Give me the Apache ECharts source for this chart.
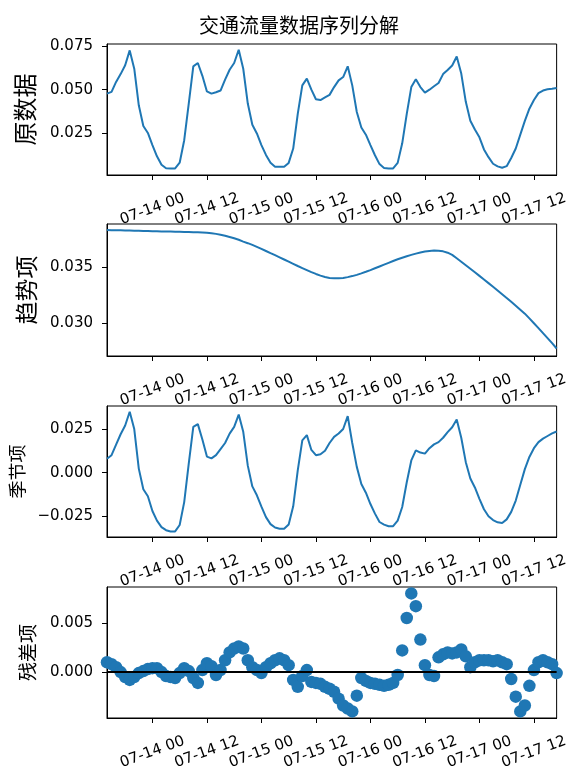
<!DOCTYPE html>
<html>
<head>
<meta charset="utf-8">
<script src="https://cdn.jsdelivr.net/npm/echarts@6/dist/echarts.min.js"></script>
<style>html,body{margin:0;padding:0;background:#fff;}#c{width:571px;height:773px;}</style>
</head>
<body>
<div id="c"></div>
<script>
// Hourly timestamps: 07-13 14:00 .. 07-17 17:00 (100 points)
const startDay = 13, startHour = 14, nPoints = 100;
const timeLabels = [];
for (let i = 0; i < nPoints; i++) {
  const h = startHour + i;
  const d = startDay + Math.floor(h / 24);
  const hh = h % 24;
  timeLabels.push('07-' + d + ' ' + (hh < 10 ? '0' + hh : '' + hh));
}

const observed = [
0.0477,0.0487,0.0545,0.0590,0.0641,0.0727,0.0621,0.0410,0.0290,0.0250,
0.0180,0.0115,0.0066,0.0046,0.0045,0.0045,0.0078,0.0208,0.0420,0.0635,
0.0654,0.0580,0.0490,0.0477,0.0485,0.0495,0.0558,0.0615,0.0654,0.0731,
0.0621,0.0420,0.0297,0.0247,0.0180,0.0123,0.0078,0.0055,0.0054,0.0054,
0.0077,0.0160,0.0360,0.0525,0.0564,0.0500,0.0445,0.0440,0.0455,0.0470,
0.0515,0.0554,0.0573,0.0635,0.0525,0.0371,0.0281,0.0240,0.0180,0.0121,
0.0070,0.0048,0.0045,0.0045,0.0077,0.0190,0.0360,0.0515,0.0560,0.0515,
0.0483,0.0500,0.0520,0.0539,0.0590,0.0614,0.0640,0.0692,0.0593,0.0430,
0.0320,0.0270,0.0225,0.0155,0.0110,0.0072,0.0057,0.0049,0.0058,0.0105,
0.0160,0.0240,0.0320,0.0390,0.0440,0.0480,0.0495,0.0502,0.0505,0.0510
];

const trend = [
0.03824,0.03823,0.03822,0.03821,0.03820,0.03819,0.03818,0.03817,0.03816,0.03815,
0.03814,0.03813,0.03812,0.03811,0.03810,0.03809,0.03808,0.03807,0.03806,0.03805,
0.03804,0.03802,0.03800,0.03796,0.03790,0.03783,0.03774,0.03763,0.03751,0.03738,
0.03722,0.03708,0.03693,0.03676,0.03658,0.03639,0.03620,0.03602,0.03583,0.03564,
0.03545,0.03526,0.03507,0.03489,0.03471,0.03453,0.03437,0.03422,0.03410,0.03402,
0.03398,0.03398,0.03402,0.03409,0.03418,0.03429,0.03442,0.03456,0.03471,0.03487,
0.03503,0.03519,0.03535,0.03551,0.03566,0.03580,0.03593,0.03605,0.03616,0.03626,
0.03634,0.03640,0.03643,0.03642,0.03636,0.03624,0.03605,0.03575,0.03545,0.03514,
0.03483,0.03452,0.03420,0.03388,0.03356,0.03324,0.03291,0.03258,0.03225,0.03191,
0.03157,0.03122,0.03087,0.03045,0.03003,0.02960,0.02916,0.02872,0.02827,0.02780
];

const seasonal = [
0.0080,0.0100,0.0160,0.0220,0.0270,0.0349,0.0250,0.0023,-0.0095,-0.0135,
-0.0220,-0.0275,-0.0312,-0.0330,-0.0337,-0.0337,-0.0300,-0.0169,0.0052,0.0262,
0.0278,0.0190,0.0092,0.0082,0.0100,0.0135,0.0170,0.0224,0.0262,0.0333,
0.0234,0.0040,-0.0079,-0.0130,-0.0195,-0.0255,-0.0295,-0.0315,-0.0322,-0.0322,
-0.0297,-0.0193,0.0013,0.0185,0.0215,0.0130,0.0100,0.0105,0.0125,0.0170,
0.0205,0.0224,0.0250,0.0324,0.0170,0.0033,-0.0065,-0.0115,-0.0180,-0.0235,
-0.0283,-0.0298,-0.0307,-0.0307,-0.0275,-0.0197,-0.0055,0.0070,0.0128,0.0115,
0.0109,0.0140,0.0162,0.0175,0.0200,0.0232,0.0260,0.0305,0.0200,0.0060,
-0.0034,-0.0085,-0.0150,-0.0210,-0.0250,-0.0272,-0.0285,-0.0289,-0.0268,-0.0225,
-0.0160,-0.0070,0.0020,0.0090,0.0140,0.0175,0.0195,0.0210,0.0225,0.0236
];

const resid = [
0.0010,0.0008,0.0005,0.0000,-0.0005,-0.0008,-0.0005,-0.0001,0.0001,0.0003,
0.0004,0.0004,0.0000,-0.0004,-0.0005,-0.0006,-0.0001,0.0004,0.0001,-0.0006,
-0.0011,0.0002,0.0009,0.0006,-0.0003,0.0002,0.0012,0.0020,0.0024,0.0026,
0.0024,0.0012,0.0005,0.0002,-0.0001,0.0005,0.0009,0.0012,0.0014,0.0012,
0.0007,-0.0008,-0.0015,-0.0004,0.0002,-0.0010,-0.0011,-0.0012,-0.0015,-0.0017,
-0.0020,-0.0027,-0.0034,-0.0037,-0.0040,-0.0024,-0.0006,-0.0009,-0.0011,-0.0012,
-0.0013,-0.0014,-0.0013,-0.0011,-0.0003,0.0022,0.0055,0.0080,0.0067,0.0033,
0.0007,-0.0003,-0.0004,0.0015,0.0018,0.0020,0.0019,0.0020,0.0023,0.0016,
0.0005,0.0010,0.0012,0.0012,0.0012,0.0011,0.0012,0.0010,0.0008,-0.0007,
-0.0025,-0.0040,-0.0034,-0.0014,0.0002,0.0010,0.0012,0.0010,0.0008,-0.0001
];

const title = '交通流量数据序列分解';
const panelNames = ['原数据', '趋势项', '季节项', '残差项'];
const yTicks = [[0.025, 0.050, 0.075], [0.030, 0.035], [-0.025, 0.000, 0.025], [0.000, 0.005]];
const yRanges = [[0.0007, 0.0764], [0.02714, 0.03877], [-0.0369, 0.0382], [-0.00467, 0.00865]];

const blue = '#1f77b4';
const tickFont = 'DejaVu Sans';
const cjkFont = 'Noto Sans CJK SC';
const gridTops = [44, 224, 406, 587];
const gridHeights = [131, 132, 131, 131];
const nameSizes = [24, 23, 18, 19];
const nameGaps = [70, 69, 74, 70];

function isMajor(idx, val) {
  const hh = (val || '').slice(-2);
  return hh === '00' || hh === '12';
}

const grids = [], xAxes = [], yAxes = [], series = [];
for (let k = 0; k < 4; k++) {
  grids.push({ left: 107, right: 12, top: gridTops[k], height: gridHeights[k],
    show: true, borderColor: '#000', borderWidth: 1, backgroundColor: 'transparent' });
  xAxes.push({
    type: 'category', gridIndex: k, data: timeLabels, boundaryGap: false,
    axisLine: { show: true, onZero: false, lineStyle: { color: '#000', width: 1 } },
    axisTick: { show: true, inside: false, length: 5, interval: isMajor, lineStyle: { color: '#000', width: 1 } },
    axisLabel: { show: true, interval: isMajor, rotate: 20, align: 'center', verticalAlign: 'middle',
      margin: 34, fontFamily: tickFont, fontSize: 15, color: '#000', hideOverlap: false },
    splitLine: { show: false }
  });
  yAxes.push({
    type: 'value', gridIndex: k, min: yRanges[k][0], max: yRanges[k][1],
    name: panelNames[k], nameLocation: 'middle', nameRotate: 90, nameGap: nameGaps[k],
    nameTextStyle: { fontFamily: cjkFont, fontSize: nameSizes[k], color: '#000' },
    axisLine: { show: true, lineStyle: { color: '#000', width: 1 } },
    axisTick: { show: true, length: 5, customValues: yTicks[k], lineStyle: { color: '#000', width: 1 } },
    axisLabel: { show: true, customValues: yTicks[k], margin: 14, fontFamily: tickFont, fontSize: 15, color: '#000',
      formatter: function (v) { return v.toFixed(3).replace('-', '\u2212'); } },
    splitLine: { show: false }
  });
}

const lineData = [observed, trend, seasonal];
for (let k = 0; k < 3; k++) {
  series.push({ type: 'line', xAxisIndex: k, yAxisIndex: k, data: lineData[k], showSymbol: false,
    lineStyle: { color: blue, width: 2 }, itemStyle: { color: blue }, z: 2 });
}
series.push({ type: 'line', xAxisIndex: 3, yAxisIndex: 3, data: [], z: 1, silent: true,
  markLine: { silent: true, symbol: 'none', label: { show: false },
    lineStyle: { color: '#000', width: 2, type: 'solid' }, data: [{ yAxis: 0 }] } });
series.push({ type: 'scatter', xAxisIndex: 3, yAxisIndex: 3, data: resid, symbol: 'circle', symbolSize: 12.5,
  itemStyle: { color: blue, opacity: 1 }, z: 3 });

const chart = echarts.init(document.getElementById('c'), null, { renderer: 'canvas' });
chart.setOption({
  animation: false,
  backgroundColor: '#fff',
  title: { text: title, left: 294, top: 10, textAlign: 'center',
    textStyle: { fontFamily: cjkFont, fontSize: 20, fontWeight: 'normal', color: '#000' } },
  grid: grids, xAxis: xAxes, yAxis: yAxes, series: series
});
</script>
</body>
</html>
